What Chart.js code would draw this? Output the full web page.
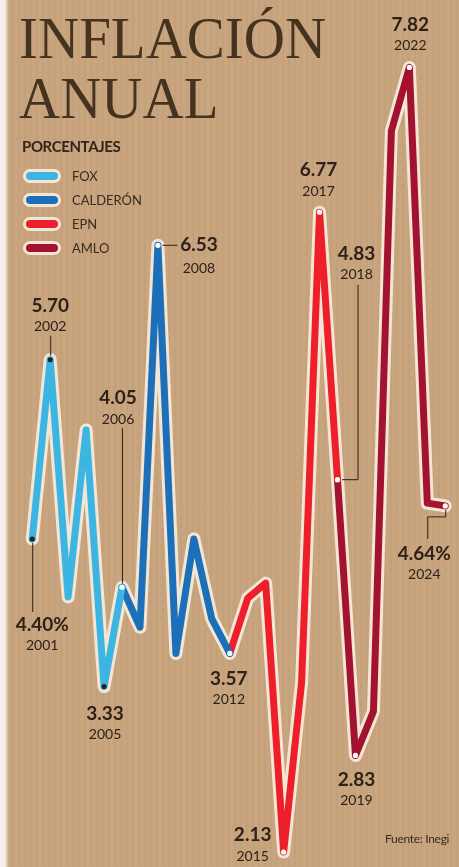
<!DOCTYPE html>
<html lang="es">
<head>
<meta charset="utf-8">
<title>Inflación anual</title>
<script src="https://cdn.jsdelivr.net/npm/chart.js@4.4.1/dist/chart.umd.min.js"></script>
<style>
  html, body { margin: 0; padding: 0; }
  body {
    width: 459px; height: 867px; overflow: hidden; position: relative;
    background:
      linear-gradient(90deg, #f4f1ec 0, #f4f1ec 5px, rgba(244,241,236,0) 9px),
      repeating-linear-gradient(90deg, rgba(60,40,20,0.03) 0 2px, rgba(0,0,0,0) 2px 6px),
      #c8a57e;
    font-family: Lato, "Open Sans", sans-serif;
    color: #2e2119;
  }
  #wrap { position: absolute; left: 0; top: 0; width: 459px; height: 867px; }
  .title {
    position: absolute; left: 19px; top: 8px;
    font-family: "Liberation Serif", "DejaVu Serif", serif;
    font-size: 60px; line-height: 60px; color: #45331f;
    transform: scaleX(0.95); transform-origin: left top;
    white-space: nowrap;
  }
  .sub {
    position: absolute; left: 22px; top: 137px;
    font-weight: 700; font-size: 15px; letter-spacing: -0.4px; color: #33241a;
  }
  #legend { position: absolute; left: 0; top: 0; }
  .item { position: absolute; left: 23px; height: 16px; }
  .swatch {
    position: absolute; left: 0; top: 1px; width: 32px; height: 8px;
    border: 3px solid #f4e6d4; border-radius: 7px;
  }
  .item span {
    position: absolute; left: 49px; top: 0; font-size: 13px; line-height: 16px;
    color: #3a2a20; white-space: nowrap;
  }
  .source {
    position: absolute; left: 385px; top: 831px; font-size: 12px; color: #3a2a20;
    letter-spacing: -0.3px;
  }
</style>
</head>
<body>
<div id="wrap"><canvas id="inflationChart"></canvas></div>
<div class="title">INFLACIÓN<br>ANUAL</div>
<div class="sub">PORCENTAJES</div>
<div id="legend"></div>
<div class="source">Fuente: Inegi</div>
<script>
// datos: inflación anual (%)
const years = [2001, 2002, 2003, 2004, 2005, 2006, 2007, 2008, 2009, 2010, 2011, 2012,
               2013, 2014, 2015, 2016, 2017, 2018, 2019, 2020, 2021, 2022, 2023, 2024];
const inflation = [4.40, 5.70, 3.98, 5.19, 3.33, 4.05, 3.76, 6.53, 3.57, 4.40, 3.82, 3.57,
                   3.97, 4.08, 2.13, 3.36, 6.77, 4.83, 2.83, 3.15, 7.36, 7.82, 4.66, 4.64];
const presidents = ['FOX', 'CALDERÓN', 'EPN', 'AMLO'];
const termStart = [2001, 2006, 2012, 2018];
const termEnd = [2006, 2012, 2018, 2024];
const labeledYears = [2001, 2002, 2005, 2006, 2008, 2012, 2015, 2017, 2018, 2019, 2022, 2024];
const percentYears = [2001, 2024];

const lineColors = ['#3db5e2', '#1c6fb9', '#ec1f2b', '#a3132f'];
const haloColor = '#f4e6d4';
const textColor = '#2e2119';

// where each label sits relative to its point (px), plus leader line path
const labelLayout = {
  2001: { dx: 10, dy: 86, leader: [[0, 4], [0, 73]] },
  2002: { dx: 0, dy: -54, leader: [[0, -24], [0, -4]] },
  2005: { dx: 1, dy: 27 },
  2006: { dx: -4, dy: -189, leader: [[0, -159], [0, -4]] },
  2008: { dx: 41, dy: 0, year: 23, leader: [[4, 0], [19, 0]] },
  2012: { dx: -1, dy: 25 },
  2015: { dx: -31, dy: -17 },
  2017: { dx: -1, dy: -42 },
  2018: { dx: 19, dy: -226, leader: [[20, -195], [20, 0], [4, 0]] },
  2019: { dx: 1, dy: 24 },
  2022: { dx: 1, dy: -43 },
  2024: { dx: -21, dy: 48, leader: [[0, 4], [0, 11], [-18, 11], [-18, 33]] }
};

const allPoints = years.map((y, i) => ({ x: i, y: inflation[i] }));

const termDatasets = presidents.map((name, k) => {
  const pts = [];
  years.forEach((y, i) => {
    if (y >= termStart[k] && y <= termEnd[k]) pts.push({ x: i, y: inflation[i] });
  });
  return {
    label: name,
    data: pts,
    borderColor: lineColors[k],
    borderWidth: 7,
    borderJoinStyle: 'round',
    borderCapStyle: 'round',
    tension: 0,
    order: 1,
    pointRadius: ctx => labeledYears.includes(years[ctx.raw.x]) ? 2.6 : 0,
    pointBackgroundColor: ctx => [2001, 2002, 2005].includes(years[ctx.raw.x]) ? '#1a2230' : '#ffffff',
    pointBorderWidth: 0,
    pointHoverRadius: 0
  };
});

const haloDataset = {
  label: 'halo',
  data: allPoints,
  borderColor: haloColor,
  borderWidth: 13,
  borderJoinStyle: 'round',
  borderCapStyle: 'round',
  tension: 0,
  pointRadius: 0,
  order: 10
};

const labelPlugin = {
  id: 'pointLabels',
  afterDatasetsDraw(chart) {
    const ctx = chart.ctx;
    const xs = chart.scales.x, ys = chart.scales.y;
    ctx.save();
    labeledYears.forEach(yr => {
      const i = years.indexOf(yr);
      const px = xs.getPixelForValue(i), py = ys.getPixelForValue(inflation[i]);
      const lay = labelLayout[yr];
      if (lay.leader) {
        ctx.beginPath();
        ctx.strokeStyle = '#2a1e16';
        ctx.lineWidth = 1;
        lay.leader.forEach(([dx, dy], j) => {
          if (j === 0) ctx.moveTo(px + dx + 0.5, py + dy); else ctx.lineTo(px + dx + 0.5, py + dy);
        });
        ctx.stroke();
      }
      const cx = px + lay.dx, cy = py + lay.dy;
      ctx.fillStyle = textColor;
      ctx.textAlign = 'center';
      ctx.textBaseline = 'middle';
      ctx.font = 'bold 19px Lato, "Open Sans", sans-serif';
      const txt = inflation[i].toFixed(2) + (percentYears.includes(yr) ? '%' : '');
      ctx.fillText(txt, cx, cy);
      ctx.font = '14px Lato, "Open Sans", sans-serif';
      ctx.fillText(String(yr), cx, cy + (lay.year || 21));
    });
    ctx.restore();
  }
};

new Chart(document.getElementById('inflationChart'), {
  type: 'line',
  data: { datasets: [haloDataset, ...termDatasets] },
  options: {
    responsive: true,
    maintainAspectRatio: false,
    animation: false,
    layout: { padding: 0 },
    scales: {
      x: { type: 'linear', display: false, min: -1.65, max: 23.62 },
      y: { display: false, min: 2.04, max: 8.29 }
    },
    plugins: { legend: { display: false }, tooltip: { enabled: false } }
  },
  plugins: [labelPlugin]
});

// leyenda en HTML
const legendBox = document.getElementById('legend');
presidents.forEach((name, k) => {
  const item = document.createElement('div');
  item.className = 'item';
  item.style.top = (168 + k * 24) + 'px';
  item.innerHTML = '<div class="swatch" style="background:' + lineColors[k] + '"></div><span>' + name + '</span>';
  legendBox.appendChild(item);
});
</script>
</body>
</html>
